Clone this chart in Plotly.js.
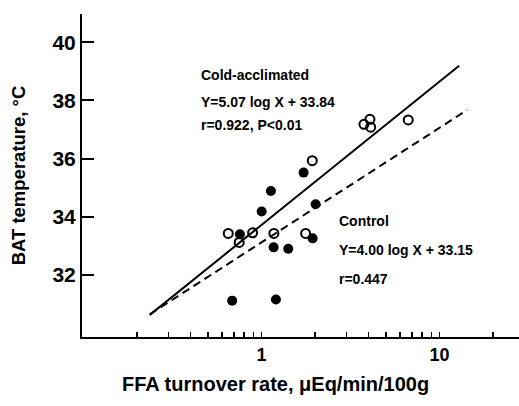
<!DOCTYPE html>
<html>
<head>
<meta charset="utf-8">
<script src="https://cdn.plot.ly/plotly-3.0.1.min.js"></script>
<style>html,body{margin:0;padding:0;background:#fff;}#chart{width:519px;height:406px;}</style>
</head>
<body>
<div id="chart"></div>
<script>
// Cold-acclimated (open circles)
const coldX = [0.651, 0.750, 0.892, 1.175, 1.930, 1.771, 3.766, 4.07, 4.11, 6.68];
const coldY = [33.43, 33.12, 33.45, 33.43, 35.93, 33.43, 37.18, 37.35, 37.08, 37.33];
// Control (filled circles)
const ctrlX = [0.757, 1.003, 1.131, 1.726, 2.016, 1.171, 1.415, 1.939, 0.685, 1.206];
const ctrlY = [33.40, 34.18, 34.89, 35.52, 34.43, 32.95, 32.90, 33.26, 31.12, 31.16];
// Regression line end points
const coldLineX = [0.236, 12.9];
const coldLineY = [30.63, 39.19];
const ctrlLineX = [0.236, 14.3];
const ctrlLineY = [30.65, 37.67];
// Axis ticks
const xTickVals = [0.2,0.3,0.4,0.5,0.6,0.7,0.8,0.9,1,2,3,4,5,6,7,8,9,10,20];
const xTickText = ['','','','','','','','','1','','','','','','','','','10',''];
const yTickVals = [32, 34, 36, 38, 40];
const yTickText = ['32', '34', '36', '38', '40'];
const xTitle = 'FFA turnover rate, μEq/min/100g';
const yTitle = 'BAT temperature, °C';

const FONT = 'Liberation Sans, Arial, sans-serif';

const traces = [
  {x: coldLineX, y: coldLineY, mode: 'lines', line: {color: '#000', width: 2}, hoverinfo: 'skip', showlegend: false},
  {x: ctrlLineX, y: ctrlLineY, mode: 'lines', line: {color: '#000', width: 2, dash: '8px,5px'}, hoverinfo: 'skip', showlegend: false},
  {x: ctrlX, y: ctrlY, mode: 'markers', marker: {symbol: 'circle', size: 10, color: '#000'}, showlegend: false},
  {x: coldX, y: coldY, mode: 'markers', marker: {symbol: 'circle-open', size: 9, color: '#000', line: {width: 2, color: '#000'}}, showlegend: false}
];

const annFont = {family: FONT, size: 14, color: '#000', weight: 'bold'};
function ann(text, x, y) {
  return {text: text, xref: 'paper', yref: 'paper', x: x, y: y, xanchor: 'left', yanchor: 'middle', showarrow: false, font: annFont};
}

const layout = {
  width: 519, height: 406,
  margin: {l: 82, r: 0, t: 14, b: 69},
  paper_bgcolor: '#fff', plot_bgcolor: '#fff',
  showlegend: false,
  xaxis: {
    type: 'log', range: [-1.008, 1.447],
    tickmode: 'array', tickvals: xTickVals, ticktext: xTickText,
    ticks: 'inside', ticklen: 5, tickwidth: 1.5, tickcolor: '#000',
    showline: true, linecolor: '#000', linewidth: 2,
    showgrid: false, zeroline: false,
    tickfont: {family: FONT, size: 18, color: '#000', weight: 'bold'}
  },
  yaxis: {
    range: [29.87, 40.97],
    tickmode: 'array', tickvals: yTickVals, ticktext: yTickText,
    ticks: 'inside', ticklen: 12, tickwidth: 2, tickcolor: '#000',
    showline: true, linecolor: '#000', linewidth: 2,
    showgrid: false, zeroline: false,
    tickfont: {family: FONT, size: 21, color: '#000', weight: 'bold'},
    title: {text: yTitle, font: {family: FONT, size: 18.5, color: '#000', weight: 'bold'}, standoff: 22}
  },
  annotations: [
    ann('Cold-acclimated', 0.268, 0.811),
    ann('Y=5.07 log X + 33.84', 0.268, 0.728),
    ann('r=0.922, P&lt;0.01', 0.268, 0.656),
    ann('Control', 0.583, 0.360),
    ann('Y=4.00 log X + 33.15', 0.583, 0.269),
    ann('r=0.447', 0.583, 0.180),
    {text: xTitle, xref: 'paper', yref: 'paper', x: 0.442, y: -0.1455, xanchor: 'center', yanchor: 'middle', showarrow: false,
     font: {family: FONT, size: 20, color: '#000', weight: 'bold'}}
  ]
};

Plotly.newPlot('chart', traces, layout, {displayModeBar: false, staticPlot: true});
</script>
</body>
</html>
